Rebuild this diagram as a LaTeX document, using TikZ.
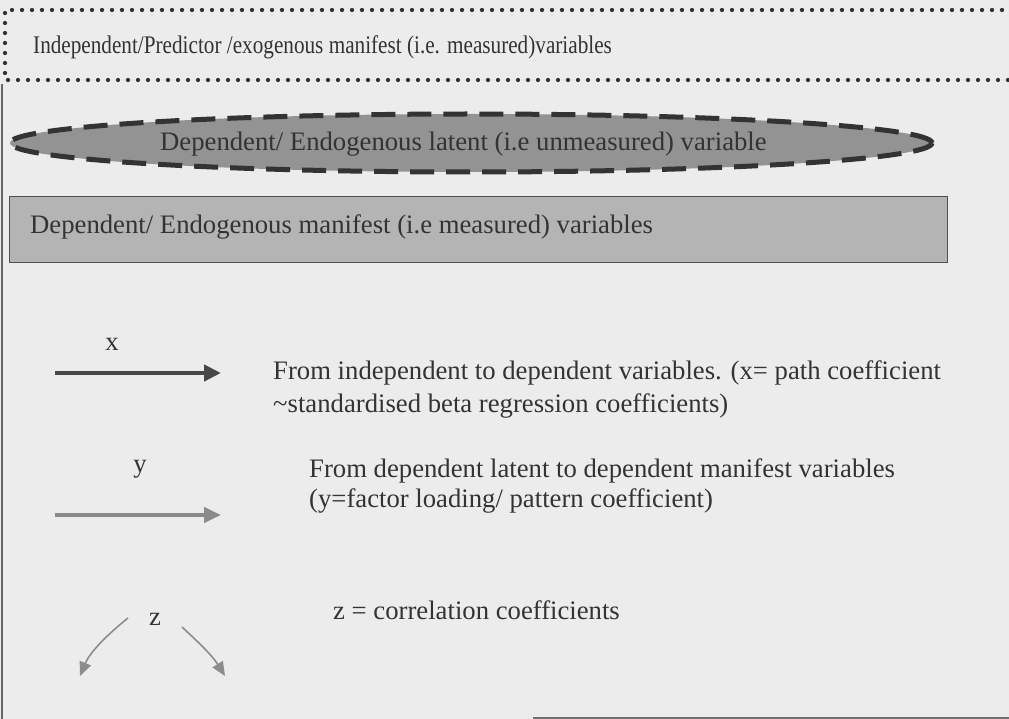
\documentclass[tikz,border=0pt]{standalone}
\usepackage{fontspec}
\setmainfont{Liberation Serif}
\usetikzlibrary{arrows.meta,shapes.geometric}
\definecolor{paper}{HTML}{ECECEC}
\definecolor{ink}{HTML}{333333}
\definecolor{latentfill}{HTML}{939393}
\definecolor{manifestfill}{HTML}{B4B4B4}
\definecolor{loadgray}{HTML}{8A8A8A}
\definecolor{corrgray}{HTML}{8C8C8C}
\tikzset{
  lbl/.style={font=\fontsize{26.7}{30}\selectfont, text=ink, inner sep=0pt, anchor=base west},
  dotline/.style={draw=ink, line width=4.3pt, line cap=round, dash pattern=on 0pt off 10pt},
  pathx/.style={draw=ink!90, line width=4.5pt, -{Triangle[length=17pt,width=16pt]}},
  pathy/.style={draw=loadgray, line width=4pt, -{Triangle[length=17pt,width=15pt]}},
  pathz/.style={draw=corrgray, line width=1.6pt, -{Triangle[length=14pt,width=12pt]}},
}
\begin{document}
\begin{tikzpicture}[x=1pt,y=-1pt]
  % page and outer frame
  \fill[paper] (0,0) rectangle (1009,719);
  \useasboundingbox (0,0) rectangle (1009,719);
  \draw[ink!75, line width=2pt] (1.5,84) -- (1.5,719);
  \draw[ink!70, line width=2pt] (533,717.5) -- (1009,717.5);

  % exogenous manifest: dotted box (text set narrow)
  \draw[dotline] (1012,10) -- (5,10) -- (5,80) -- (1012,80);
  \node[lbl] (exo) at (33,54) {\scalebox{0.794}[0.95]{Independent/Predictor /exogenous manifest (i.e. measured)variables}};

  % endogenous latent: dashed ellipse
  \node[ellipse, fill=latentfill, draw=ink, line width=5pt,
        dash pattern=on 24pt off 12pt, minimum width=922pt, minimum height=58pt,
        inner sep=0pt] (lat) at (471,143) {};
  \node[lbl] (latxt) at (160,151) {Dependent/ Endogenous latent (i.e unmeasured) variable};

  % endogenous manifest: grey box
  \node[rectangle, fill=manifestfill, draw=ink!85, line width=1pt,
        minimum width=938pt, minimum height=66pt, inner sep=0pt] (man) at (478,230) {};
  \node[lbl] (mantxt) at (30,234) {Dependent/ Endogenous manifest (i.e measured) variables};

  % path coefficient arrow
  \coordinate (xa) at (55,373);
  \coordinate (xb) at (221,373);
  \draw[pathx] (xa) -- (xb);
  \node[lbl, anchor=base] (xl) at (112,350) {x};
  \node[lbl] (xt1) at (273,379) {From independent to dependent variables. (x= path coefficient};
  \node[lbl] (xt2) at (273,412) {\textasciitilde standardised beta regression coefficients)};

  % factor loading arrow
  \coordinate (ya) at (55,515);
  \coordinate (yb) at (221,515);
  \draw[pathy] (ya) -- (yb);
  \node[lbl, anchor=base] (yl) at (140,472) {y};
  \node[lbl] (yt1) at (309,477) {From dependent latent to dependent manifest variables};
  \node[lbl] (yt2) at (309,507) {(y=factor loading/ pattern coefficient)};

  % correlation arrows
  \node[lbl, anchor=base] (zl) at (155,625) {z};
  \coordinate (zla) at (128,618);
  \coordinate (zlb) at (80,676);
  \coordinate (zra) at (182,627);
  \coordinate (zrb) at (225,676);
  \draw[pathz] (zla) .. controls (108,634) and (90,652) .. (zlb);
  \draw[pathz] (zra) .. controls (196,640) and (212,655) .. (zrb);
  \node[lbl] (zt) at (333,619) {z = correlation coefficients};
\end{tikzpicture}
\end{document}
